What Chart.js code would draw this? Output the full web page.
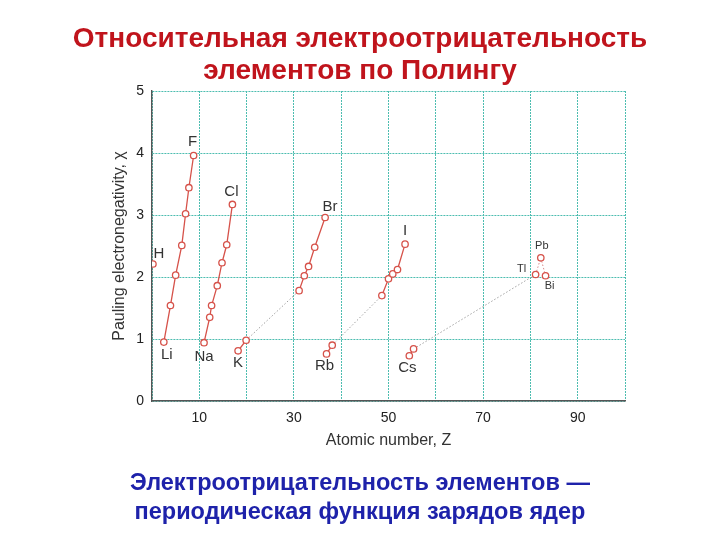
<!DOCTYPE html>
<html>
<head>
<meta charset="utf-8">
<script src="https://cdn.jsdelivr.net/npm/chart.js@4.4.1/dist/chart.umd.min.js"></script>
<style>
  body { margin: 0; background: #fff; }
  #wrap { position: relative; width: 720px; height: 540px; overflow: hidden; }
  #chart { position: absolute; left: 0; top: 0; }
  .head { position: absolute; left: 0; width: 720px; text-align: center; font-family: "Liberation Sans", Arial, sans-serif; font-weight: bold; }
  #title { top: 22px; font-size: 28px; line-height: 32px; color: #c0141c; }
  #note { top: 468px; font-size: 23.5px; line-height: 29px; color: #1e22aa; }
</style>
</head>
<body>
<div id="wrap">
  <canvas id="chart" width="720" height="540"></canvas>
  <div id="title" class="head">Относительная электроотрицательность<br>элементов по Полингу</div>
  <div id="note" class="head">Электроотрицательность элементов —<br>периодическая функция зарядов ядер</div>
</div>
<script>
var symbols = ["H", "Li", "Be", "B", "C", "N", "O", "F", "Na", "Mg", "Al", "Si", "P", "S", "Cl",
  "K", "Ca", "Ga", "Ge", "As", "Se", "Br", "Rb", "Sr", "In", "Sn", "Sb", "Te", "I",
  "Cs", "Ba", "Tl", "Pb", "Bi"];
// atomic number as placed in the picture
var zValues = [0.2, 2.5, 3.9, 5.0, 6.3, 7.1, 7.8, 8.8, 11.0, 12.2, 12.6, 13.8, 14.8, 15.8, 17.0,
  18.2, 19.9, 31.1, 32.2, 33.1, 34.4, 36.6, 36.9, 38.1, 48.6, 50.0, 50.9, 51.9, 53.5,
  54.4, 55.3, 81.1, 82.2, 83.2];
var chiValues = [2.21, 0.95, 1.54, 2.03, 2.51, 3.02, 3.44, 3.96, 0.94, 1.35, 1.54, 1.86, 2.23, 2.52, 3.17,
  0.81, 0.98, 1.78, 2.02, 2.17, 2.48, 2.96, 0.76, 0.90, 1.70, 1.97, 2.05, 2.12, 2.53,
  0.73, 0.84, 2.04, 2.31, 2.02];
// solid runs: first and last element of each run
var solidRuns = [["H", "H"], ["Li", "F"], ["Na", "Cl"], ["K", "Ca"], ["Ga", "Br"], ["Rb", "Sr"],
  ["In", "I"], ["Cs", "Ba"], ["Tl", "Tl"], ["Pb", "Pb"], ["Bi", "Bi"]];
var dottedLinks = [["Ca", "Ga"], ["Sr", "In"], ["Ba", "Tl"], ["Tl", "Pb"], ["Pb", "Bi"]];
var shownLabels = ["H", "F", "Li", "Na", "Cl", "K", "Br", "Rb", "I", "Cs", "Pb", "Tl", "Bi"];
var xTicks = [10, 30, 50, 70, 90];

var red = "#d6524a";

function pointsBetween(a, b) {
  var i0 = symbols.indexOf(a), i1 = symbols.indexOf(b);
  var pts = [];
  for (var i = i0; i <= i1; i++) pts.push({x: zValues[i], y: chiValues[i]});
  return pts;
}

var datasets = [];
solidRuns.forEach(function (r) {
  datasets.push({
    data: pointsBetween(r[0], r[1]),
    borderColor: red,
    borderWidth: 1.3,
    pointRadius: 3.2,
    pointBorderWidth: 1.3,
    pointBackgroundColor: "#fff",
    pointBorderColor: red
  });
});
dottedLinks.forEach(function (l) {
  var a = symbols.indexOf(l[0]), b = symbols.indexOf(l[1]);
  var reddish = (l[0] === "Tl" || l[0] === "Pb");
  datasets.push({
    data: [{x: zValues[a], y: chiValues[a]}, {x: zValues[b], y: chiValues[b]}],
    borderColor: reddish ? "#d98a8a" : "#a0a0a0",
    borderWidth: 1,
    borderDash: [1.5, 2],
    pointRadius: 0
  });
});

// label offsets in px from the point
var labelOffset = {
  H: [6, -10], F: [-1, -14], Li: [3, 13], Na: [0, 14], Cl: [-1, -13], K: [0, 12],
  Br: [5, -11], Rb: [-2, 12], I: [0, -13], Cs: [-2, 12], Pb: [1, -12], Tl: [-14, -6], Bi: [4, 10]
};

var elementLabels = {
  id: "elementLabels",
  afterDatasetsDraw: function (chart) {
    var ctx = chart.ctx, xs = chart.scales.x, ys = chart.scales.y;
    ctx.save();
    ctx.fillStyle = "#333";
    ctx.textAlign = "center";
    ctx.textBaseline = "middle";
    shownLabels.forEach(function (s) {
      var i = symbols.indexOf(s);
      var small = (s === "Pb" || s === "Tl" || s === "Bi");
      ctx.font = (small ? "11px" : "15px") + " 'Liberation Sans', Arial, sans-serif";
      var o = labelOffset[s];
      ctx.fillText(s, xs.getPixelForValue(zValues[i]) + o[0], ys.getPixelForValue(chiValues[i]) + o[1]);
    });
    ctx.restore();
  }
};

var gridColor = "#4dbdb0";
var tickFont = {family: "'Liberation Sans', Arial, sans-serif", size: 14};
var titleFont = {family: "'Liberation Sans', Arial, sans-serif", size: 16};

new Chart("chart", {
  type: "line",
  data: {datasets: datasets},
  options: {
    responsive: false,
    animation: false,
    devicePixelRatio: 1,
    layout: {padding: {left: 105, top: 91, right: 95, bottom: 90}},
    plugins: {legend: {display: false}, tooltip: {enabled: false}},
    scales: {
      x: {
        type: "linear",
        min: 0, max: 100,
        grid: {color: gridColor, lineWidth: 1, drawTicks: false},
        border: {color: "#555", width: 1.4, dash: [2, 1]},
        ticks: {
          stepSize: 10, autoSkip: false, maxRotation: 0, padding: 9,
          color: "#222", font: tickFont,
          callback: function (v) { return xTicks.indexOf(v) >= 0 ? v : ""; }
        },
        title: {display: true, text: "Atomic number, Z", color: "#333", font: titleFont, padding: {top: 3, bottom: 0}},
        afterFit: function (s) { s.height = 49; }
      },
      y: {
        min: 0, max: 5,
        grid: {color: gridColor, lineWidth: 1, drawTicks: false},
        border: {color: "#555", width: 1.4, dash: [2, 1]},
        ticks: {stepSize: 1, padding: 8, color: "#222", font: tickFont},
        title: {display: true, text: "Pauling electronegativity, χ", color: "#333", font: titleFont, padding: {top: 5, bottom: 0}},
        afterFit: function (s) { s.width = 47; }
      }
    }
  },
  plugins: [elementLabels]
});
</script>
</body>
</html>
